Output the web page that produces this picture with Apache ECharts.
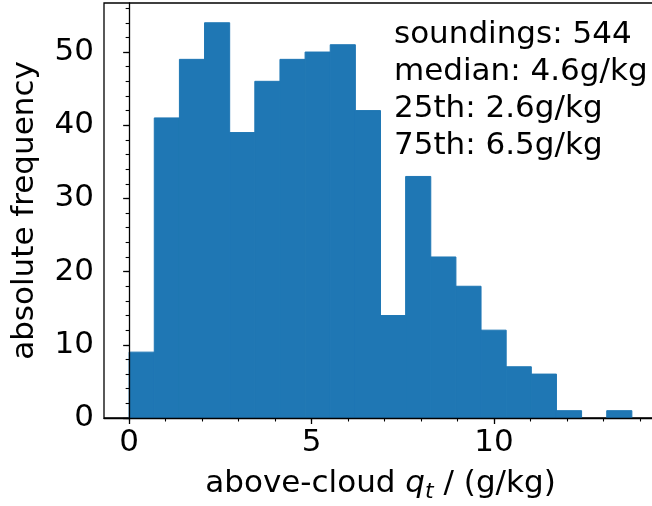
<!DOCTYPE html>
<html><head><meta charset="utf-8">
<script src="https://cdn.jsdelivr.net/npm/echarts@6/dist/echarts.min.js"></script>
<style>html,body{margin:0;padding:0;background:#fff}#c{width:652px;height:506px}</style>
</head><body><div id="c"></div>
<script>
// ---- data ----
const binStart = 0;
const binWidth = 0.689;
const counts = [9, 41, 49, 54, 39, 46, 49, 50, 51, 42, 14, 33, 22, 18, 12, 7, 6, 1, 0, 1];
const xMajorTicks = [0, 5, 10];
const xMinorTicks = [0, 1, 2, 3, 4, 5, 6, 7, 8, 9, 10, 11, 12, 13, 14];
const yMajorTicks = [0, 10, 20, 30, 40, 50];
const yMinorTicks = [0, 2, 4, 6, 8, 10, 12, 14, 16, 18, 20, 22, 24, 26, 28, 30, 32, 34, 36, 38, 40, 42, 44, 46, 48, 50, 52, 54, 56];
const statLines = ['soundings: 544', 'median: 4.6g/kg', '25th: 2.6g/kg', '75th: 6.5g/kg'];
const yLabel = 'absolute frequency';

// ---- derived ----
const nb = counts.length;
const binEnd = binStart + nb * binWidth;
const xMargin = 0.05 * (binEnd - binStart);
const xMin = binStart - xMargin, xMax = binEnd + xMargin;
const yMax = Math.max(...counts) * 1.05;
const data = counts.map((c, i) => [binStart + i * binWidth, binStart + (i + 1) * binWidth, c]);

const FF = 'DejaVu Sans';
const FS = 31;
const INK = '#000';
const chart = echarts.init(document.getElementById('c'), null, {renderer: 'canvas'});

const axisLine = {show: true, lineStyle: {color: INK, width: 1.3}};
chart.setOption({
  animation: false,
  backgroundColor: '#fff',
  grid: {left: 104, top: 3, right: -5, bottom: 88, containLabel: false, outerBoundsMode: 'none',
    show: true, borderColor: INK, borderWidth: 1.3, backgroundColor: 'transparent'},
  xAxis: [{
    type: 'value', min: xMin, max: xMax, position: 'bottom', z: 10,
    axisLine: axisLine, splitLine: {show: false},
    axisTick: {show: true, length: 6, inside: false, customValues: xMajorTicks, lineStyle: {color: INK, width: 1.3}},
    axisLabel: {show: true, customValues: xMajorTicks, margin: 9, fontSize: FS, fontFamily: FF, color: INK},
    name: '{n|above-cloud }{q|q}{t|t}{n| / (g/kg)}', nameLocation: 'middle', nameGap: 47,
    nameTextStyle: {fontSize: FS, fontFamily: FF, color: INK, rich: {
      n: {fontSize: FS, fontFamily: FF, color: INK, lineHeight: 38},
      q: {fontSize: FS, fontFamily: FF, fontStyle: 'italic', color: INK, lineHeight: 38},
      t: {fontSize: 22, fontFamily: FF, fontStyle: 'italic', color: INK, verticalAlign: 'bottom', lineHeight: 36}
    }}
  }, {
    type: 'value', min: xMin, max: xMax, position: 'bottom', z: 10,
    axisLine: {show: false}, splitLine: {show: false},
    axisTick: {show: true, length: 3.5, inside: false, customValues: xMinorTicks, lineStyle: {color: INK, width: 1.1}},
    axisLabel: {show: false}
  }],
  yAxis: [{
    type: 'value', min: 0, max: yMax, position: 'left', z: 10,
    axisLine: axisLine, splitLine: {show: false},
    axisTick: {show: true, length: 6, inside: false, customValues: yMajorTicks, lineStyle: {color: INK, width: 1.3}},
    axisLabel: {show: true, customValues: yMajorTicks, margin: 10, fontSize: FS, fontFamily: FF, color: INK},
    name: yLabel, nameLocation: 'middle', nameGap: 64, nameRotate: 90,
    nameTextStyle: {fontSize: FS, fontFamily: FF, color: INK}
  }, {
    type: 'value', min: 0, max: yMax, position: 'left', z: 10,
    axisLine: {show: false}, splitLine: {show: false},
    axisTick: {show: true, length: 3.5, inside: false, customValues: yMinorTicks, lineStyle: {color: INK, width: 1.1}},
    axisLabel: {show: false}
  }],
  graphic: statLines.map((s, i) => ({
    type: 'text', left: 394, top: 19 + i * 37, z: 100,
    style: {text: s, fontSize: FS, fontFamily: FF, fill: INK}
  })),
  series: [{
    type: 'custom', xAxisIndex: 0, yAxisIndex: 0, clip: false,
    data: data,
    encode: {x: [0, 1], y: 2},
    renderItem: function (params, api) {
      const x0 = api.value(0), x1 = api.value(1), c = api.value(2);
      if (!c) return null;
      const p0 = api.coord([x0, c]);
      const p1 = api.coord([x1, 0]);
      return {type: 'rect', shape: {x: p0[0], y: p0[1], width: p1[0] - p0[0], height: p1[1] - p0[1]},
        style: {fill: '#1f77b4', stroke: '#1f77b4', lineWidth: 1}};
    }
  }]
});
</script></body></html>
